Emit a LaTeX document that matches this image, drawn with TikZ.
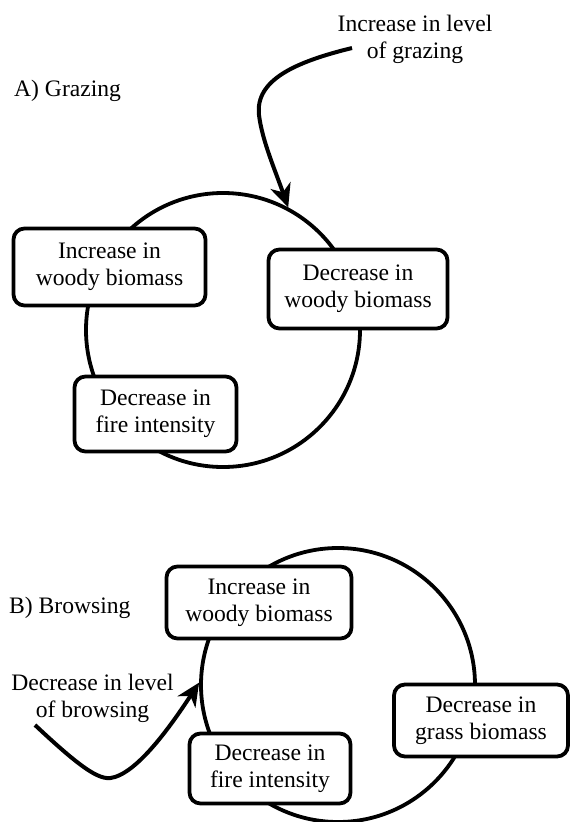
\documentclass[tikz,border=0pt]{standalone}
\usepackage{fontspec}
\setmainfont{Liberation Serif}
\usetikzlibrary{arrows.meta}
\begin{document}
\begin{tikzpicture}[x=1pt,y=-1pt,
  lw/.style={line width=3.8pt},
  ring/.style={circle,draw,lw,minimum size=274pt,inner sep=0pt},
  box/.style={draw,lw,fill=white,rounded corners=11pt,align=center,inner sep=0pt,
    font=\fontsize{23.6}{27}\selectfont},
  lbl/.style={align=center,inner sep=0pt,font=\fontsize{23.6}{27}\selectfont},
  arr/.style={line width=4pt,-{Stealth[length=23pt,width=21pt,inset=7pt]}}]
\useasboundingbox (0,0) rectangle (571,822);
% Panel A
\node[ring] (cA) at (223,330) {};
\node[box,minimum width=192pt,minimum height=77pt] (a1) at (109.5,267) {Increase in\\woody biomass};
\node[box,minimum width=179pt,minimum height=79pt] (a2) at (358,289) {Decrease in\\woody biomass};
\node[box,minimum width=162pt,minimum height=75pt] (a3) at (155.5,414) {Decrease in\\fire intensity};
\node[lbl] (tA) at (415,39) {Increase in level\\of grazing};
\node[lbl,anchor=west] (hA) at (14,91) {A) Grazing};
\coordinate (sA) at (352,48);
\draw[arr] (sA) .. controls (295,62) and (255,80) .. (259,115) .. controls (262,140) and (275,170) .. (cA.62);
% Panel B
\node[ring] (cB) at (338,685) {};
\node[box,minimum width=185pt,minimum height=72pt] (b1) at (259,602.5) {Increase in\\woody biomass};
\node[box,minimum width=174pt,minimum height=72pt] (b2) at (481,720.5) {Decrease in\\grass biomass};
\node[box,minimum width=161pt,minimum height=70pt] (b3) at (270,768.5) {Decrease in\\fire intensity};
\node[lbl,anchor=west] (hB) at (9,608) {B) Browsing};
\node[lbl] (tB) at (92.5,698) {Decrease in level\\of browsing};
\coordinate (sB) at (35,725);
\draw[arr] (sB) .. controls (85,772) and (102,782) .. (115,777) .. controls (137,770) and (165,735) .. (cB.179);
\end{tikzpicture}
\end{document}
